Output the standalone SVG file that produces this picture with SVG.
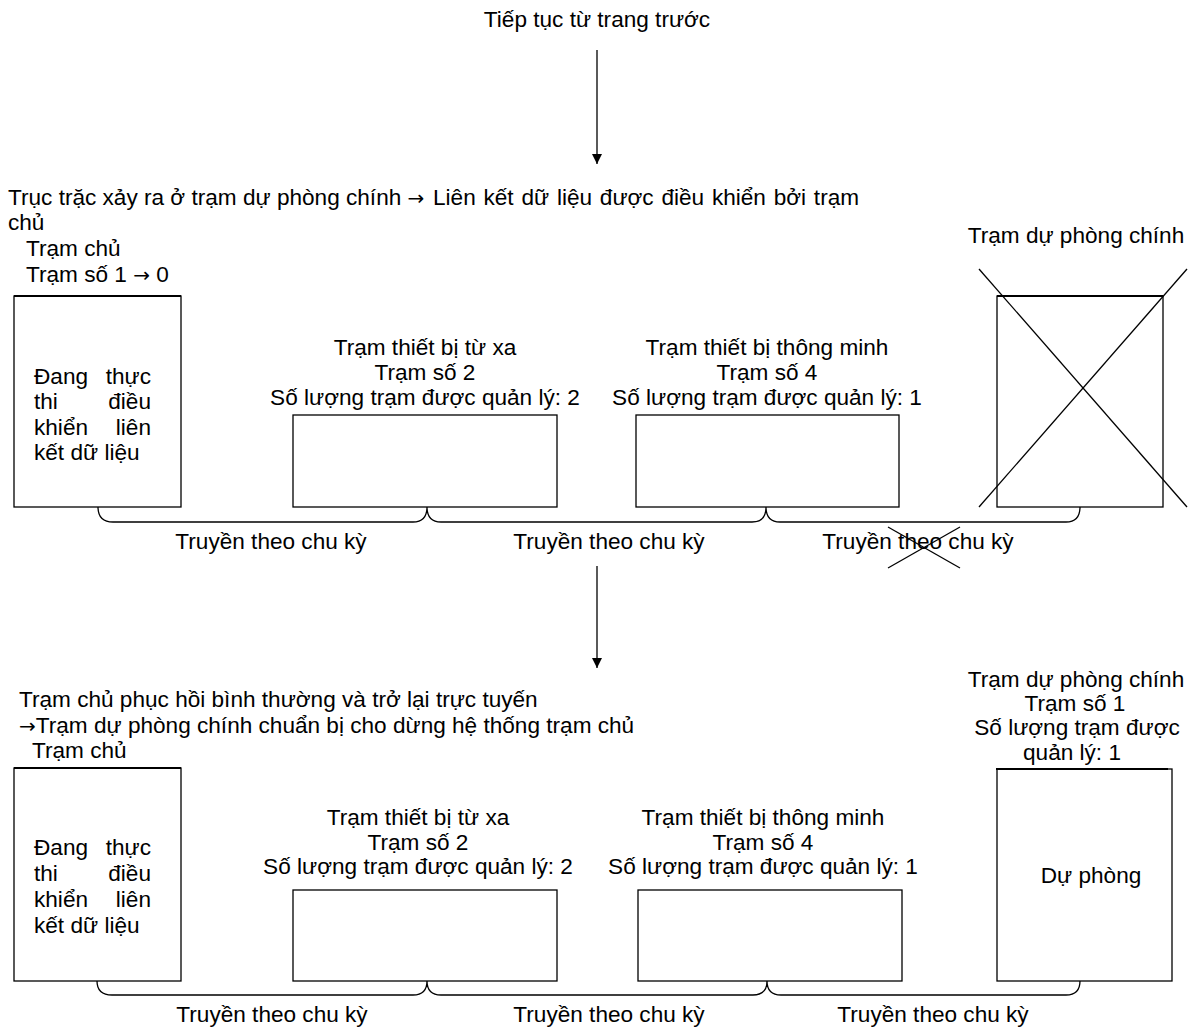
<svg xmlns="http://www.w3.org/2000/svg" width="1195" height="1028" viewBox="0 0 1195 1028">
  <style>
    text { font-family: "Liberation Sans", Arial, sans-serif; font-size: 22.6px; fill: #000; }
    .c { text-anchor: middle; }
    .r { text-anchor: end; }
    .arw { font-family: "DejaVu Sans", sans-serif; font-size: 20px; }
    .box { fill: none; stroke: #000; stroke-width: 1.3; }
    .top { stroke: #000; stroke-width: 2.2; }
    .ln { fill: none; stroke: #000; stroke-width: 1.3; }
    .brace { fill: none; stroke: #000; stroke-width: 1.3; }
  </style>
  <defs>
    <marker id="ah" markerWidth="10" markerHeight="10" refX="10" refY="5" orient="auto" markerUnits="userSpaceOnUse">
      <path d="M0,0 L10,5 L0,10 Z" fill="#000"/>
    </marker>
  </defs>

  <rect width="1195" height="1028" fill="#fff"/>

  <!-- continuation label -->
  <text x="597" y="27" class="c">Tiếp tục từ trang trước</text>

  <!-- flow arrows and station-link braces -->
  <g id="connectors">
    <line class="ln" x1="597" y1="50" x2="597" y2="164" marker-end="url(#ah)"/>
    <line class="ln" x1="597" y1="566" x2="597" y2="668" marker-end="url(#ah)"/>
    <path class="brace" d="M98,507 Q98,522 113,522 H413 Q427,522 427,507 Q427,522 441,522 H752 Q766,522 766,507 Q766,522 780,522 H1066 Q1080,522 1080,507"/>
    <path class="brace" d="M97,981 Q97,995 112,995 H413 Q427,995 427,981 Q427,995 441,995 H753 Q767,995 767,981 Q767,995 781,995 H1066 Q1080,995 1080,981"/>
    <text x="271" y="549" class="c">Truyền theo chu kỳ</text>
    <text x="609" y="549" class="c">Truyền theo chu kỳ</text>
    <text x="918" y="549" class="c">Truyền theo chu kỳ</text>
    <line class="ln" x1="888" y1="527" x2="960" y2="568"/>
    <line class="ln" x1="888" y1="568" x2="960" y2="527"/>
    <text x="272" y="1022" class="c">Truyền theo chu kỳ</text>
    <text x="609" y="1022" class="c">Truyền theo chu kỳ</text>
    <text x="933" y="1022" class="c">Truyền theo chu kỳ</text>
  </g>

  <!-- stage 1: main standby station failure -->
  <text x="8" y="205">Trục trặc xảy ra ở trạm dự phòng chính <tspan class="arw">→</tspan></text>
  <text x="433" y="205" word-spacing="1.5">Liên kết dữ liệu được điều khiển bởi trạm</text>
  <text x="8" y="230">chủ</text>

  <g id="master1">
    <text x="26" y="256">Trạm chủ</text>
    <text x="26" y="282">Trạm số 1 <tspan class="arw">→</tspan> 0</text>
    <rect class="box" x="14" y="296" width="167" height="211"/>
    <line class="top" x1="14" y1="296" x2="181" y2="296"/>
    <text x="34" y="384">Đang</text><text x="151" y="384" class="r">thực</text>
    <text x="34" y="409">thi</text><text x="151" y="409" class="r">điều</text>
    <text x="34" y="435">khiển</text><text x="151" y="435" class="r">liên</text>
    <text x="34" y="460">kết dữ liệu</text>
  </g>

  <g id="remote1">
    <text x="425" y="355" class="c">Trạm thiết bị từ xa</text>
    <text x="425" y="380" class="c">Trạm số 2</text>
    <text x="425" y="405" class="c">Số lượng trạm được quản lý: 2</text>
    <rect class="box" x="293" y="415" width="264" height="92"/>
  </g>

  <g id="intelligent1">
    <text x="767" y="355" class="c">Trạm thiết bị thông minh</text>
    <text x="767" y="380" class="c">Trạm số 4</text>
    <text x="767" y="405" class="c">Số lượng trạm được quản lý: 1</text>
    <rect class="box" x="636" y="415" width="263" height="92"/>
  </g>

  <g id="standby1">
    <text x="1076" y="243" class="c">Trạm dự phòng chính</text>
    <rect class="box" x="997" y="296" width="166" height="211"/>
    <line class="top" x1="997" y1="296" x2="1163" y2="296"/>
    <line class="ln" x1="979" y1="269" x2="1187" y2="507"/>
    <line class="ln" x1="1187" y1="269" x2="979" y2="507"/>
  </g>

  <!-- stage 2: master station back online -->
  <text x="19" y="707">Trạm chủ phục hồi bình thường và trở lại trực tuyến</text>
  <text x="19" y="733"><tspan class="arw">→</tspan>Trạm dự phòng chính chuẩn bị cho dừng hệ thống trạm chủ</text>

  <g id="master2">
    <text x="32" y="758">Trạm chủ</text>
    <rect class="box" x="14" y="768" width="167" height="213"/>
    <line class="top" x1="14" y1="768" x2="181" y2="768"/>
    <text x="34" y="855">Đang</text><text x="151" y="855" class="r">thực</text>
    <text x="34" y="881">thi</text><text x="151" y="881" class="r">điều</text>
    <text x="34" y="907">khiển</text><text x="151" y="907" class="r">liên</text>
    <text x="34" y="933">kết dữ liệu</text>
  </g>

  <g id="remote2">
    <text x="418" y="825" class="c">Trạm thiết bị từ xa</text>
    <text x="418" y="850" class="c">Trạm số 2</text>
    <text x="418" y="874" class="c">Số lượng trạm được quản lý: 2</text>
    <rect class="box" x="293" y="890" width="264" height="91"/>
  </g>

  <g id="intelligent2">
    <text x="763" y="825" class="c">Trạm thiết bị thông minh</text>
    <text x="763" y="850" class="c">Trạm số 4</text>
    <text x="763" y="874" class="c">Số lượng trạm được quản lý: 1</text>
    <rect class="box" x="638" y="890" width="264" height="91"/>
  </g>

  <g id="standby2">
    <text x="1076" y="687" class="c">Trạm dự phòng chính</text>
    <text x="1075" y="711" class="c">Trạm số 1</text>
    <text x="1077" y="735" class="c">Số lượng trạm được</text>
    <text x="1072" y="760" class="c">quản lý: 1</text>
    <rect class="box" x="997" y="769" width="175" height="212"/>
    <line class="top" x1="996" y1="769" x2="1168" y2="769"/>
    <text x="1091" y="883" class="c">Dự phòng</text>
  </g>
</svg>
